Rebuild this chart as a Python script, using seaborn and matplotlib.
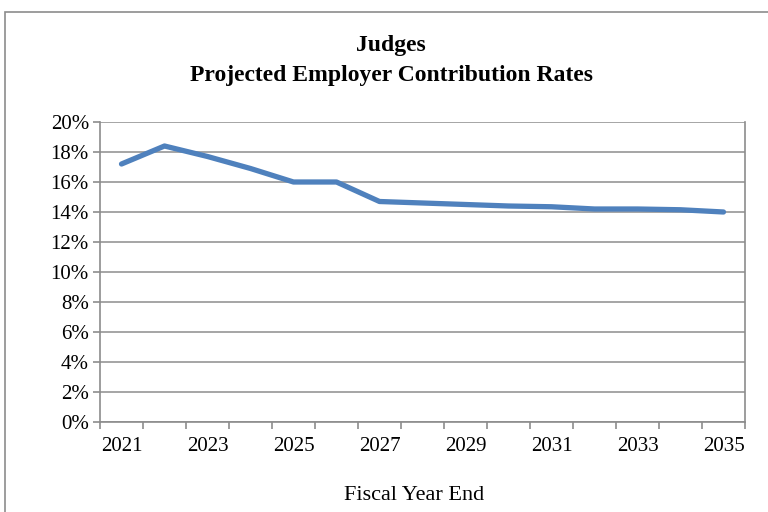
import matplotlib
matplotlib.use("Agg")
import matplotlib.pyplot as plt
from matplotlib.patches import Rectangle
from matplotlib.ticker import FixedLocator, FuncFormatter
import pandas as pd
import seaborn as sns

years = [2021, 2022, 2023, 2024, 2025, 2026, 2027, 2028,
         2029, 2030, 2031, 2032, 2033, 2034, 2035]
rates = [17.2, 18.4, 17.7, 16.9, 16.0, 16.0, 14.7, 14.6,
         14.5, 14.4, 14.35, 14.2, 14.2, 14.15, 14.0]
labeled_years = [2021, 2023, 2025, 2027, 2029, 2031, 2033, 2035]
title_lines = ["Judges", "Projected Employer Contribution Rates"]
x_label = "Fiscal Year End"

sns.set_theme(style="white")
plt.rcParams["font.family"] = ["Liberation Serif", "DejaVu Serif"]

df = pd.DataFrame({"year": years, "rate": rates})

fig = plt.figure(figsize=(7.68, 5.12), dpi=100)
ax = fig.add_axes([100 / 768, 1 - 422 / 512, 645 / 768, 300 / 512])

# outer chart frame
fig.patches.append(Rectangle((5 / 768, -0.05), 1.1, 1.05 - 12 / 512,
                             transform=fig.transFigure, fill=False,
                             edgecolor="#8c8c8c", linewidth=1.2, zorder=0))

sns.lineplot(data=df, x="year", y="rate", ax=ax, color="#4F81BD",
             linewidth=3.8, solid_capstyle="round", solid_joinstyle="round")

ax.set_xlim(2020.5, 2035.5)
ax.set_ylim(0, 20)
ax.yaxis.set_major_locator(FixedLocator(range(0, 21, 2)))
ax.yaxis.set_major_formatter(FuncFormatter(lambda v, p: f"{int(v)}%"))
ax.xaxis.set_major_locator(FixedLocator(labeled_years))
ax.xaxis.set_major_formatter(FuncFormatter(lambda v, p: f"{int(v)}"))
ax.xaxis.set_minor_locator(FixedLocator([y - 0.5 for y in years] + [years[-1] + 0.5]))

ax.grid(axis="y", color="#969696", linewidth=1.2)
ax.set_axisbelow(True)
for s in ax.spines.values():
    s.set_color("#8c8c8c")
    s.set_linewidth(1.2)
ax.spines["top"].set_visible(False)

ax.tick_params(axis="y", which="major", length=5, width=1.2, color="#8c8c8c",
               direction="out", left=True, labelsize=15, pad=3, labelcolor="black")
ax.tick_params(axis="x", which="major", length=0, labelsize=15, pad=11,
               labelcolor="black")
ax.tick_params(axis="x", which="minor", length=5, width=1.2, color="#8c8c8c",
               direction="out", bottom=True)

ax.set_ylabel("")
ax.set_xlabel("")
fig.text(414 / 768, 1 - 495 / 512, x_label, ha="center", va="center",
         fontsize=16, color="black")

fig.text(391 / 768, 1 - 45 / 512, title_lines[0], ha="center", va="center",
         fontsize=17, fontweight="bold", color="black")
fig.text(391 / 768, 1 - 75 / 512, title_lines[1], ha="center", va="center",
         fontsize=17, fontweight="bold", color="black")

fig.savefig("out.png", dpi=100, facecolor="white")
